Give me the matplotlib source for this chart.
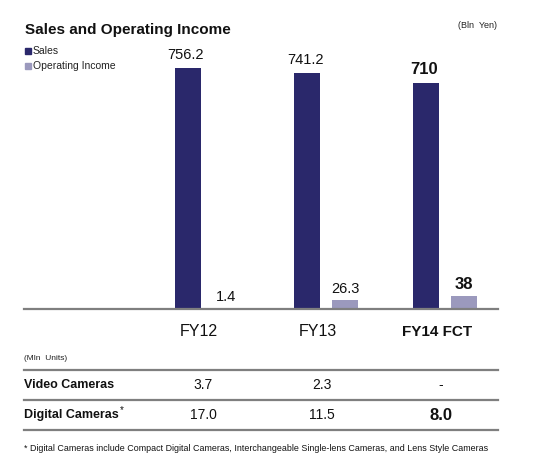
import matplotlib
matplotlib.use("Agg")
import matplotlib.pyplot as plt
from matplotlib.transforms import blended_transform_factory
from matplotlib.patches import Rectangle

plt.rcParams['font.family'] = ['Liberation Sans', 'DejaVu Sans']

categories = ["FY12", "FY13", "FY14 FCT"]
sales = [756.2, 741.2, 710]
op_income = [1.4, 26.3, 38]
sales_labels = ["756.2", "741.2", "710"]
op_labels = ["1.4", "26.3", "38"]
bold_flags = [False, False, True]
row_names = ["Video Cameras", "Digital Cameras"]
video_cameras = ["3.7", "2.3", "-"]
digital_cameras = ["17.0", "11.5", "8.0"]

W, H = 533, 469
SALES_C = "#2a286b"
OP_C = "#9b99bd"
LINE_C = "#7f7f7f"

fig = plt.figure(figsize=(W / 100, H / 100), dpi=100)

def fx(px):
    return px / W

def fy(py):
    return 1 - py / H

ax_left, ax_right, ax_bottom, ax_top = 24, 498, 308, 38.2
ax = fig.add_axes([fx(ax_left), fy(ax_bottom), fx(ax_right - ax_left), (ax_bottom - ax_top) / H])
ppu = 119.0
x0 = 207.0
ax.set_xlim((ax_left - x0) / ppu, (ax_right - x0) / ppu)
ax.set_ylim(0, 850)
ax.axis("off")

d = 19 / ppu
bw = 26 / ppu
xs = list(range(len(categories)))
ax.bar([x - d for x in xs], sales, width=bw, color=SALES_C)
ax.bar([x + d for x in xs], op_income, width=bw, color=OP_C)

for i, x in enumerate(xs):
    w = "bold" if bold_flags[i] else "normal"
    fs = 12 if bold_flags[i] else 10.5
    ax.annotate(sales_labels[i], (x - d - 2 / ppu, sales[i]), xytext=(0, 4), textcoords="offset points",
                ha="center", va="bottom", fontsize=fs, fontweight=w, color="#111111")
    ax.annotate(op_labels[i], (x + d, op_income[i]), xytext=(0, 2.5), textcoords="offset points",
                ha="center", va="bottom", fontsize=fs, fontweight=w, color="#111111")

# baseline
fig.add_artist(plt.Line2D([fx(24), fx(498)], [fy(309), fy(309)], color=LINE_C, lw=1.6))

tr = blended_transform_factory(ax.transData, fig.transFigure)
for i, x in enumerate(xs):
    w = "bold" if bold_flags[i] else "normal"
    ax.text(x - 8 / ppu, fy(332), categories[i], transform=tr, ha="center", va="center",
            fontsize=11.5 if not bold_flags[i] else 11, fontweight=w, color="#111111")

# title and units
fig.text(fx(25), fy(30), "Sales and Operating Income", fontsize=11, fontweight="bold",
         ha="left", va="center", color="#111111")
fig.text(fx(497), fy(25), "(Bln  Yen)", fontsize=6.5, ha="right", va="center", color="#222222")

# legend
for k, (lab, c) in enumerate([("Sales", SALES_C), ("Operating Income", OP_C)]):
    yc = 51 + 15 * k
    fig.add_artist(Rectangle((fx(25), fy(yc + 3)), fx(6), 6 / H, color=c, transform=fig.transFigure))
    fig.text(fx(33), fy(yc), lab, fontsize=7.5, ha="left", va="center", color="#222222")

# table
fig.text(fx(24), fy(358), "(Mln  Units)", fontsize=6, ha="left", va="center", color="#222222")
for yl in [370, 400, 430]:
    fig.add_artist(plt.Line2D([fx(24), fx(498)], [fy(yl), fy(yl)], color=LINE_C, lw=1.6))

renderer = fig.canvas.get_renderer()
rows = [video_cameras, digital_cameras]
row_y = [385, 415]
for r, (name, vals) in enumerate(zip(row_names, rows)):
    t = fig.text(fx(24), fy(row_y[r]), name, fontsize=9, fontweight="bold", ha="left", va="center", color="#111111")
    if r == 1:
        bb = t.get_window_extent(renderer=renderer)
        fig.text(fx(bb.x1 + 1), fy(row_y[r] - 5), "*", fontsize=7, ha="left", va="center", color="#111111")
    for i, x in enumerate(xs):
        is_bold = bold_flags[i] and vals[i] != "-"
        w = "bold" if is_bold else "normal"
        fs = 12 if is_bold else 10
        ax.text(x - 4 / ppu, fy(row_y[r]), vals[i], transform=tr, ha="center", va="center",
                fontsize=fs, fontweight=w, color="#111111")

fig.text(fx(24), fy(448),
         "* Digital Cameras include Compact Digital Cameras, Interchangeable Single-lens Cameras, and Lens Style Cameras",
         fontsize=6.4, ha="left", va="center", color="#111111")

fig.savefig("out.png", dpi=100)
